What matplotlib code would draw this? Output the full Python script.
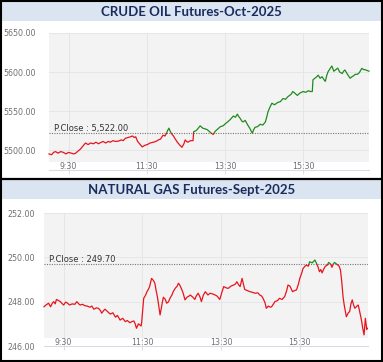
import matplotlib
matplotlib.use("Agg")
import matplotlib.pyplot as plt
from matplotlib.patches import Rectangle
from matplotlib.lines import Line2D

# ---------------- data ----------------
crude_title = "CRUDE OIL Futures-Oct-2025"
crude_pclose = 5522.00
crude_t = [0, 4, 7, 10, 14, 18, 22, 26, 30, 34,
           38, 41, 45, 48, 52, 56, 60, 64, 68, 72,
           76, 79, 83, 87, 91, 94, 98, 102, 107, 111,
           114, 117, 121, 125, 128, 131, 133, 136, 139, 143,
           147, 151, 155, 160, 164, 168, 171, 175, 178, 180,
           182, 184, 186, 188, 191, 193, 197, 201, 204, 207,
           209, 211, 213, 217, 221, 222, 226, 229, 232, 236,
           240, 243, 247, 250, 252, 255, 259, 263, 267, 271,
           274, 278, 283, 286, 289, 291, 293, 296, 298, 301,
           305, 308, 312, 314, 316, 320, 324, 328, 332, 334,
           336, 339, 342, 346, 351, 355, 359, 363, 366, 370,
           372, 374, 377, 381, 385, 390, 394, 398, 401, 404,
           405, 408, 411, 413, 416, 419, 422, 424, 426, 428,
           431, 434, 437, 440, 443, 446, 450, 452, 454, 458,
           462, 465, 467, 470, 473, 476, 480, 483, 485, 488,
           491]
crude_v = [5495, 5494, 5497, 5498, 5496, 5498, 5497, 5495, 5497, 5496,
           5495, 5496, 5499, 5501, 5505, 5509, 5507, 5509, 5508, 5510,
           5508, 5509.5, 5511, 5509, 5511, 5510, 5512, 5511, 5511.5, 5513,
           5512, 5515, 5516, 5517, 5518, 5516, 5517, 5511, 5508, 5504,
           5506, 5507, 5509, 5510, 5511, 5513, 5514, 5519, 5518, 5521,
           5525, 5528, 5524, 5521, 5518, 5515, 5510, 5506, 5503.5, 5508,
           5513, 5511, 5510, 5512, 5512, 5523.5, 5525, 5528, 5531, 5528,
           5527, 5526, 5523, 5521, 5520, 5524, 5527, 5530, 5531, 5534,
           5536, 5539, 5543.6, 5542, 5546, 5543, 5541, 5537, 5536, 5538,
           5532, 5528, 5521.5, 5526, 5529, 5530, 5533, 5532, 5536, 5542,
           5549, 5555, 5560, 5558, 5561, 5562, 5566, 5565, 5568, 5570.5,
           5572, 5575, 5573, 5570, 5573, 5575, 5574, 5576, 5575, 5575,
           5590, 5592, 5594, 5596, 5592, 5594, 5590, 5588, 5595, 5600,
           5604, 5607.7, 5601, 5603, 5605, 5600, 5598, 5601, 5602.6, 5597,
           5592, 5594, 5595, 5597, 5597, 5599, 5604.7, 5603, 5603, 5602,
           5601]
crude_yticks = [5500, 5550, 5600, 5650]

gas_title = "NATURAL GAS Futures-Sept-2025"
gas_pclose = 249.70
gas_t = [0, 3, 7, 10, 13, 15, 17, 19, 22, 25,
         28, 30, 33, 35, 39, 43, 47, 50, 53, 55,
         59, 62, 66, 70, 73, 76, 80, 83, 86, 88,
         91, 93, 97, 101, 105, 109, 112, 116, 120, 124,
         127, 131, 134, 137, 139, 141, 144, 146, 148, 149,
         152, 155, 157, 159, 161, 164, 167, 169, 171, 173,
         175, 177, 180, 182, 185, 187, 190, 192, 195, 197,
         200, 203, 205, 207, 210, 212, 215, 218, 221, 223,
         227, 230, 232, 235, 238, 240, 243, 246, 250, 253,
         257, 261, 264, 268, 271, 274, 278, 281, 285, 289,
         292, 294, 297, 299, 302, 304, 306, 310, 314, 318,
         322, 326, 329, 332, 334, 337, 339, 342, 345, 347,
         350, 352, 356, 359, 363, 367, 370, 372, 375, 379,
         382, 385, 388, 390, 393, 395, 398, 400, 403, 405,
         409, 413, 416, 418, 420, 422, 424, 427, 429, 432,
         434, 437, 439, 441, 443, 446, 448, 450, 452, 454,
         456, 458, 461, 464, 466, 468, 470, 472, 474, 477,
         479, 481, 484, 486, 488, 490, 492, 493]
gas_v = [247.77, 247.85, 247.93, 247.77, 247.95, 248.0, 247.9, 248.1, 248.05, 248.0,
         247.9, 247.85, 247.98, 247.95, 247.85, 247.9, 247.88, 248.0, 247.9, 247.85,
         247.88, 247.82, 247.8, 247.75, 247.8, 247.66, 247.72, 247.7, 247.6, 247.48,
         247.6, 247.66, 247.55, 247.44, 247.5, 247.3, 247.38, 247.17, 247.25, 247.1,
         247.15, 247.05, 247.1, 247.13, 247.0, 246.8, 247.0, 246.95, 246.9, 247.1,
         248.15, 248.3, 248.45, 248.55, 248.68, 249.05, 248.95, 248.83, 248.5, 248.2,
         247.8, 247.4, 247.9, 248.2, 248.1, 247.93, 248.0, 248.15, 248.3, 248.45,
         248.6, 248.7, 248.83, 248.75, 248.55, 248.4, 248.08, 248.2, 248.25, 248.3,
         248.2, 248.1, 248.25, 248.38, 248.2, 248.0, 248.3, 248.45, 248.3, 248.38,
         248.35, 248.3, 248.25, 248.1, 248.4, 248.68, 248.62, 248.6, 248.7, 248.75,
         248.8, 248.9, 248.75, 248.68, 249.05, 248.8, 248.55, 248.5, 248.45, 248.42,
         248.38, 248.4, 248.3, 248.25, 248.15, 247.95, 247.7, 247.8, 247.75, 247.77,
         247.9, 248.0, 248.05, 248.15, 248.1, 248.23, 248.5, 248.75, 248.7, 248.45,
         248.5, 248.53, 248.8, 249.05, 249.3, 249.5, 249.6, 249.65, 249.6, 249.8,
         249.75, 249.88, 249.7, 249.55, 249.35, 249.45, 249.3, 249.5, 249.6, 249.65,
         249.77, 249.7, 249.55, 249.7, 249.77, 249.7, 249.65, 249.6, 249.43, 248.9,
         248.2, 247.8, 247.32, 247.5, 247.55, 247.9, 248.08, 247.85, 247.7, 247.8,
         247.85, 247.6, 247.17, 246.8, 246.5, 247.25, 246.75, 246.8]
gas_yticks = [246, 248, 250, 252]

xtick_minutes = [30, 150, 270, 390]
xtick_labels = ["9:30", "11:30", "13:30", "15:30"]

# ---------------- styling ----------------
W, H = 383, 362
RED = "#e8141c"
GREEN = "#1e8c1e"
BAND = "#dbe5f1"
NAVY = "#1a2b5e"
PLOTBG = "#f3f3f3"
GRID = "#e4e4e4"

fig = plt.figure(figsize=(W / 100, H / 100), dpi=100)
fig.patch.set_facecolor("white")


def fx(px):
    return px / W


def fy(py):
    return 1 - py / H


def band(y0, y1, text):
    fig.patches.append(Rectangle((fx(2), fy(y1)), fx(379), (y1 - y0) / H,
                                 transform=fig.transFigure, facecolor=BAND,
                                 edgecolor="none", zorder=0))
    fig.text(0.5, fy((y0 + y1) / 2 + 0.5), text, ha="center", va="center",
             fontsize=9.5, fontweight="bold", color=NAVY, family="Lato")


def panel(left, right, top, bottom, t, v, pclose, yticks, ylim, xlim,
          label, ylabfmt, gray_frac, ypad):
    ax = fig.add_axes([fx(left), fy(bottom), fx(right - left), (bottom - top) / H])
    ax.set_facecolor("white")
    ax.add_patch(Rectangle((0, gray_frac), 1, 1 - gray_frac, transform=ax.transAxes,
                           facecolor=PLOTBG, edgecolor="none", zorder=0))
    ax.set_xlim(*xlim)
    ax.set_ylim(*ylim)
    for s in ["top", "right", "left"]:
        ax.spines[s].set_visible(False)
    ax.spines["bottom"].set_color("#d6dbe6")
    ax.spines["bottom"].set_linewidth(0.8)
    ax.set_yticks(yticks)
    ax.set_yticklabels([ylabfmt % y for y in yticks])
    ax.set_xticks(xtick_minutes)
    ax.set_xticklabels(xtick_labels)
    ax.tick_params(axis="y", length=0, pad=ypad, labelsize=5.7, labelcolor="#707070")
    ax.tick_params(axis="x", length=3, direction="out", color="#e0e0e0",
                   pad=-8.5, labelsize=5.7, labelcolor="#707070")
    for xt in xtick_minutes:
        ax.axvline(xt, color=GRID, lw=0.6, zorder=1)
    for yt in yticks:
        ax.axhline(yt, color=GRID, lw=0.6, zorder=1)
    ax.axhline(pclose, color="#777777", lw=0.8, ls=(0, (1, 1.2)), zorder=2)
    lo = ylim[0] - 1000
    red_line, = ax.plot(t, v, color=RED, lw=0.9, zorder=3)
    red_line.set_clip_path(Rectangle((xlim[0] - 100, lo), 2000, pclose - lo,
                                     transform=ax.transData))
    green_line, = ax.plot(t, v, color=GREEN, lw=0.9, zorder=3)
    green_line.set_clip_path(Rectangle((xlim[0] - 100, pclose), 2000, 2000,
                                       transform=ax.transData))
    ax.text(0.015, pclose, label, transform=ax.get_yaxis_transform(),
            ha="left", va="bottom", fontsize=6, color="#333333", zorder=4)
    return ax


band(2, 21, crude_title)
panel(49, 369, 33, 170, crude_t, crude_v, crude_pclose, crude_yticks,
      (5474.4, 5650), (0, 491), "P.Close : 5,522.00", "%.2f", 0.06, 9.4)

band(180, 199, gas_title)
panel(44, 368, 213, 346, gas_t, gas_v, gas_pclose, gas_yticks,
      (246, 252), (0, 494), "P.Close : 249.70", "%.2f", 0.06, 6.5)

# separator and outer border
fig.lines.append(Line2D([0, 1], [fy(179), fy(179)], transform=fig.transFigure,
                        color="black", lw=1.6))
fig.patches.append(Rectangle((fx(1), fy(361)), fx(381), 360 / H, transform=fig.transFigure,
                             facecolor="none", edgecolor="black", lw=1.5, zorder=10))

fig.savefig("out.png", dpi=100)
